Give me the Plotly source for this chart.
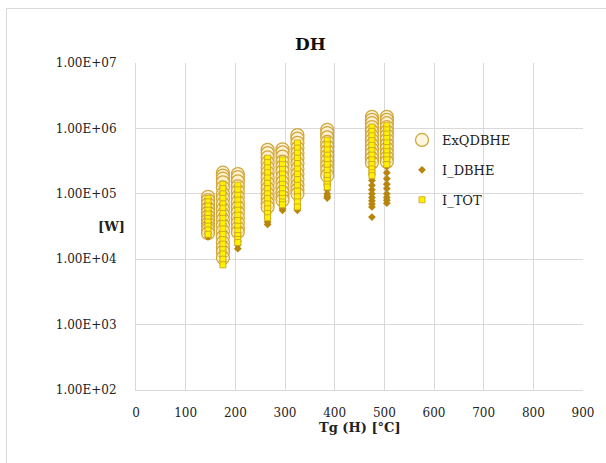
import plotly.graph_objects as go

# Temperatures (x) of each column
T = [145, 175, 205, 265, 295, 325, 385, 475, 505]

# ExQDBHE values per column [W]
EXQ = [
    [9.0e4, 8.0e4, 7.0e4, 6.0e4, 5.2e4, 4.5e4, 4.0e4, 3.5e4, 3.1e4, 2.8e4, 2.5e4],
    [2.1e5, 1.9e5, 1.7e5, 1.5e5, 1.25e5, 1.0e5, 8.5e4, 7.0e4, 5.8e4, 4.8e4, 4.0e4, 3.3e4, 2.7e4, 2.2e4, 1.8e4, 1.5e4, 1.3e4, 1.05e4],
    [2.0e5, 1.8e5, 1.55e5, 1.3e5, 1.1e5, 9.0e4, 7.5e4, 6.2e4, 5.2e4, 4.3e4, 3.6e4, 3.0e4, 2.6e4],
    [4.7e5, 4.2e5, 3.6e5, 3.0e5, 2.5e5, 2.1e5, 1.75e5, 1.45e5, 1.2e5, 1.0e5, 8.5e4, 7.2e4, 6.3e4],
    [4.8e5, 4.3e5, 3.7e5, 3.1e5, 2.6e5, 2.2e5, 1.8e5, 1.5e5, 1.25e5, 1.05e5, 9.0e4, 8.0e4],
    [7.9e5, 7.0e5, 6.0e5, 5.0e5, 4.2e5, 3.5e5, 2.9e5, 2.4e5, 2.0e5, 1.65e5, 1.35e5, 1.15e5, 1.0e5],
    [9.5e5, 8.5e5, 7.3e5, 6.2e5, 5.3e5, 4.5e5, 3.8e5, 3.2e5, 2.7e5, 2.3e5, 1.9e5],
    [1.5e6, 1.35e6, 1.2e6, 1.05e6, 9.0e5, 7.7e5, 6.6e5, 5.6e5, 4.8e5, 4.1e5, 3.5e5, 3.0e5],
    [1.5e6, 1.35e6, 1.2e6, 1.05e6, 9.0e5, 7.8e5, 6.7e5, 5.7e5, 4.9e5, 4.2e5, 3.6e5, 3.1e5],
]

# I_DBHE values per column [W]
IDBHE = [
    [7.0e4, 5.5e4, 4.5e4, 3.6e4, 3.0e4, 2.5e4, 2.2e4],
    [1.0e5, 7.0e4, 5.0e4, 3.5e4, 2.5e4, 1.8e4, 1.4e4, 1.1e4, 9.5e3, 8.5e3],
    [9.0e4, 6.0e4, 4.0e4, 3.0e4, 2.3e4, 1.9e4, 1.65e4, 1.45e4],
    [2.0e5, 1.3e5, 9.0e4, 6.5e4, 5.0e4, 4.2e4, 3.7e4, 3.4e4],
    [2.0e5, 1.3e5, 9.5e4, 7.5e4, 6.5e4, 6.0e4, 5.6e4],
    [3.0e5, 2.0e5, 1.4e5, 1.0e5, 8.0e4, 6.8e4, 6.0e4, 5.6e4],
    [4.0e5, 2.6e5, 1.8e5, 1.4e5, 1.15e5, 1.0e5, 9.2e4, 8.6e4],
    [5.0e5, 3.5e5, 2.6e5, 2.0e5, 1.6e5, 1.35e5, 1.15e5, 1.0e5, 8.8e4, 7.8e4, 7.0e4, 6.3e4, 4.4e4],
    [6.0e5, 4.5e5, 3.4e5, 2.6e5, 2.1e5, 1.7e5, 1.4e5, 1.2e5, 1.0e5, 8.8e4, 8.0e4, 7.2e4],
]

# I_TOT values per column [W]
ITOT = [
    [8.5e4, 7.5e4, 6.5e4, 5.6e4, 4.9e4, 4.2e4, 3.7e4, 3.2e4, 2.8e4, 2.4e4],
    [1.4e5, 1.2e5, 1.0e5, 8.5e4, 7.0e4, 6.0e4, 5.0e4, 4.2e4, 3.5e4, 2.9e4, 2.4e4, 2.0e4, 1.7e4, 1.4e4, 1.2e4, 1.0e4, 8.2e3],
    [1.35e5, 1.15e5, 9.5e4, 8.0e4, 6.7e4, 5.6e4, 4.7e4, 3.9e4, 3.2e4, 2.7e4, 2.3e4, 2.0e4, 1.8e4],
    [3.5e5, 3.0e5, 2.5e5, 2.1e5, 1.75e5, 1.45e5, 1.2e5, 1.0e5, 8.5e4, 7.0e4, 5.9e4, 5.0e4, 4.3e4],
    [3.3e5, 2.8e5, 2.35e5, 2.0e5, 1.7e5, 1.4e5, 1.2e5, 1.0e5, 8.5e4, 7.5e4, 6.8e4],
    [6.0e5, 5.0e5, 4.2e5, 3.5e5, 2.9e5, 2.4e5, 2.0e5, 1.65e5, 1.35e5, 1.1e5, 9.0e4, 7.5e4, 6.3e4],
    [6.6e5, 5.6e5, 4.7e5, 3.9e5, 3.3e5, 2.8e5, 2.3e5, 1.9e5, 1.6e5, 1.4e5, 1.27e5],
    [1.05e6, 9.0e5, 7.7e5, 6.5e5, 5.5e5, 4.6e5, 3.9e5, 3.3e5, 2.8e5, 2.4e5, 2.1e5, 1.9e5],
    [1.1e6, 9.5e5, 8.2e5, 7.0e5, 6.0e5, 5.1e5, 4.4e5, 3.8e5, 3.3e5, 2.8e5],
]

Y_TICKS = [1e2, 1e3, 1e4, 1e5, 1e6, 1e7]
Y_TICK_TEXT = ["1.00E+02", "1.00E+03", "1.00E+04", "1.00E+05", "1.00E+06", "1.00E+07"]


def flatten(groups):
    xs, ys = [], []
    for t, vals in zip(T, groups):
        for v in vals:
            xs.append(t)
            ys.append(v)
    return xs, ys


FONT = "DejaVu Serif"
GRID = "#D9D9D9"
TXT = "#222222"

fig = go.Figure()

x, y = flatten(EXQ)
fig.add_trace(go.Scatter(
    x=x, y=y, mode="markers", name="ExQDBHE", legendgroup="g0",
    marker=dict(symbol="circle", size=13, color="rgba(255,240,205,0.6)",
                line=dict(color="#D0A53A", width=1.25)),
))
x, y = flatten(IDBHE)
fig.add_trace(go.Scatter(
    x=x, y=y, mode="markers", name="I_DBHE", legendgroup="g1",
    marker=dict(symbol="diamond", size=6, color="#B8860B",
                line=dict(color="#B8860B", width=0)),
))
x, y = flatten(ITOT)
fig.add_trace(go.Scatter(
    x=x, y=y, mode="markers", name="I_TOT", legendgroup="g2",
    marker=dict(symbol="square", size=6, color="#FFF200",
                line=dict(color="#C9A020", width=0.8)),
))

W, H = 606, 463
L, R, TOP, B = 136, 23, 63, 73
pw, ph = W - L - R, H - TOP - B


def px(xp):
    return (xp - L) / pw


def py(yp):
    return (H - B - yp) / ph


fig.update_layout(
    width=W, height=H,
    margin=dict(l=L, r=R, t=TOP, b=B, pad=0),
    paper_bgcolor="white", plot_bgcolor="white",
    font=dict(family=FONT, size=12, color=TXT),
    showlegend=True,
    legend=dict(x=px(402), y=py(125), xanchor="left", yanchor="top",
                font=dict(family=FONT, size=13, color=TXT),
                bgcolor="rgba(0,0,0,0)", tracegroupgap=10,
                traceorder="grouped", itemsizing="trace"),
    xaxis=dict(range=[0, 900], dtick=100, tick0=0, showgrid=True, gridcolor=GRID,
               gridwidth=1, zeroline=False, showline=True, linecolor=GRID,
               ticks="", ticklabelstandoff=12, mirror=False,
               tickfont=dict(family=FONT, size=12, color=TXT)),
    yaxis=dict(type="log", range=[2, 7], tickvals=Y_TICKS, ticktext=Y_TICK_TEXT,
               showgrid=True, gridcolor=GRID, gridwidth=1, zeroline=False,
               showline=True, linecolor=GRID, ticks="", ticklabelstandoff=16,
               tickfont=dict(family=FONT, size=12, color=TXT)),
)

fig.add_annotation(text="<b>DH</b>", x=px(310), y=py(32), xref="paper", yref="paper",
                   showarrow=False, font=dict(family=FONT, size=17, color="#111111"))
fig.add_annotation(text="<b>[W]</b>", x=px(96), y=py(226), xref="paper", yref="paper",
                   showarrow=False, font=dict(family=FONT, size=13, color=TXT))
fig.add_annotation(text="<b>Tg (H) [°C]</b>", x=0.5, y=py(437), xref="paper", yref="paper",
                   showarrow=False, font=dict(family=FONT, size=13, color=TXT))

fig.add_shape(type="rect", xref="paper", yref="paper",
              x0=px(6.5), x1=px(620), y0=py(475), y1=py(8.5),
              line=dict(color=GRID, width=1), fillcolor="rgba(0,0,0,0)", layer="below")

fig.write_html("out.html")
